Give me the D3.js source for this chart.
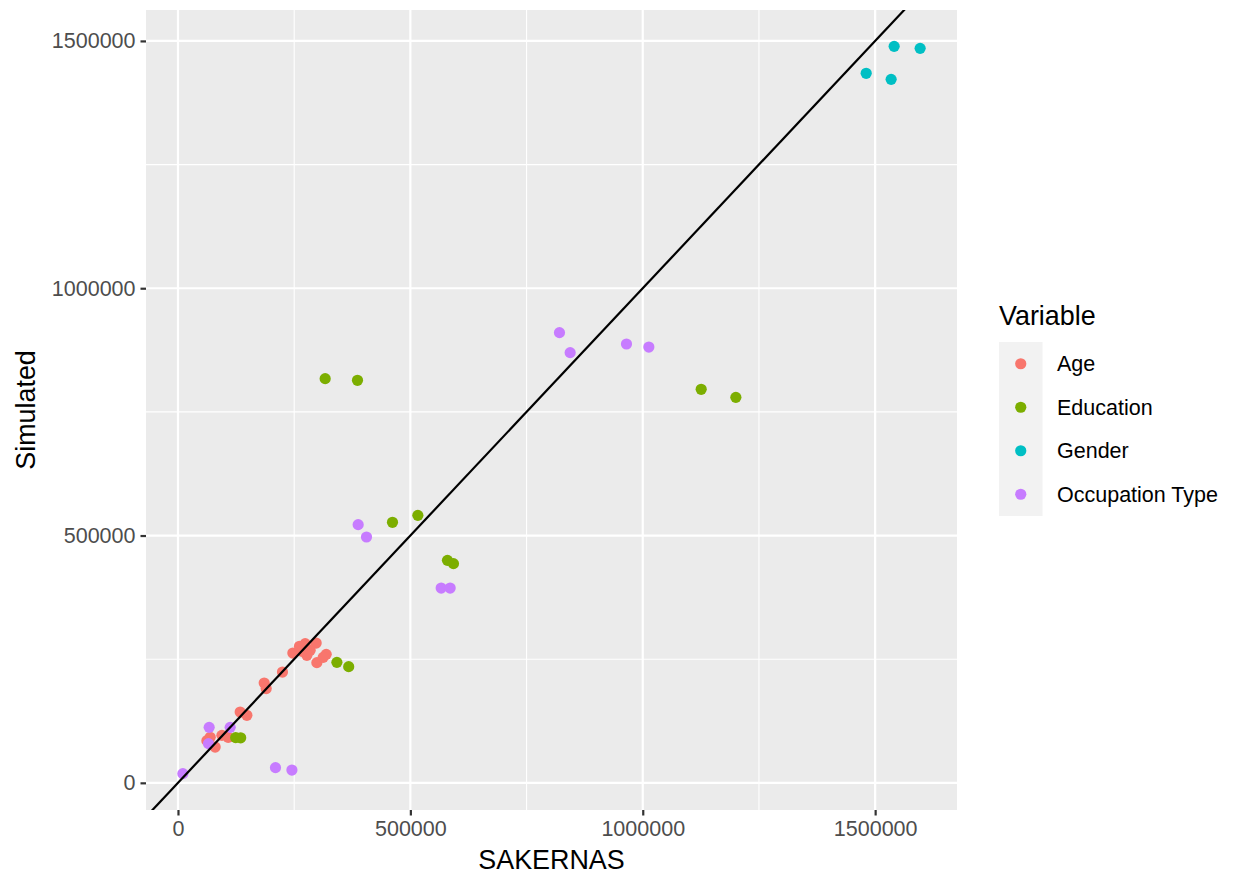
<!DOCTYPE html>
<html>
<head>
<meta charset="utf-8">
<script src="https://cdn.jsdelivr.net/npm/d3@7"></script>
<style>
  html, body { margin: 0; padding: 0; background: #fff; }
  svg text { font-family: "Liberation Sans", Arial, Helvetica, sans-serif; }
</style>
</head>
<body>
<svg id="chart" width="1238" height="878"></svg>
<script>
// ---- data ----
const categories = ["Age", "Education", "Gender", "Occupation Type"];
const colors = ["#F8766D", "#7CAE00", "#00BFC4", "#C77CFF"];

const ageX = [247200, 261400, 273700, 297300, 284400, 277300, 298800, 318900, 312400, 267200,
              224800, 185500, 189800, 133800, 148200, 69300, 62200, 80000, 94500, 108000];
const ageY = [262400, 276000, 281400, 282600, 267900, 257800, 243000, 259800, 253700, 265900,
              224000, 201800, 190500, 143100, 136500, 92000, 85300, 72400, 96000, 92000];

const eduX = [316700, 386200, 1125700, 1200300, 461500, 516100, 579800, 592700, 341900, 367300, 124100, 134900];
const eduY = [817200, 813800, 795600, 779400, 526700, 540800, 449800, 443200, 243600, 234900, 91400, 91000];

const genX = [1480700, 1540900, 1534400, 1596800];
const genY = [1434500, 1489000, 1422300, 1485000];

const occX = [820800, 843800, 965000, 1013100, 387700, 405600, 566300, 585600, 67100, 112300, 65600, 10500, 209800, 245100];
const occY = [910200, 869800, 887200, 881100, 522000, 497000, 393800, 393800, 112200, 112200, 79300, 18600, 30700, 25900];

const xTicks = [0, 500000, 1000000, 1500000];
const yTicks = [0, 500000, 1000000, 1500000];
const xMinor = [250000, 750000, 1250000];
const yMinor = [250000, 750000, 1250000];

const xTitle = "SAKERNAS";
const yTitle = "Simulated";
const legendTitle = "Variable";

// ---- build ----
const seriesX = [ageX, eduX, genX, occX];
const seriesY = [ageY, eduY, genY, occY];
const points = [];
categories.forEach((c, i) => {
  seriesX[i].forEach((x, j) => points.push({ cat: c, ci: i, x: x, y: seriesY[i][j] }));
});

const P = { left: 146, right: 957, top: 10, bottom: 810 };

function expand(ext) { const d = ext[1] - ext[0]; return [ext[0] - 0.05 * d, ext[1] + 0.05 * d]; }
const xDom = expand(d3.extent(points, d => d.x));
const yDom = expand(d3.extent(points, d => d.y));

const x = d3.scaleLinear().domain(xDom).range([P.left, P.right]);
const y = d3.scaleLinear().domain(yDom).range([P.bottom, P.top]);
const color = d3.scaleOrdinal().domain(categories).range(colors);

const svg = d3.select("#chart");

svg.append("defs").append("clipPath").attr("id", "panelClip")
  .append("rect").attr("x", P.left).attr("y", P.top)
  .attr("width", P.right - P.left).attr("height", P.bottom - P.top);

// panel background
svg.append("rect").attr("x", P.left).attr("y", P.top)
  .attr("width", P.right - P.left).attr("height", P.bottom - P.top)
  .attr("fill", "#EBEBEB");

const grid = svg.append("g");
// minor grid
grid.selectAll(".vxm").data(xMinor).join("line")
  .attr("x1", d => x(d)).attr("x2", d => x(d)).attr("y1", P.top).attr("y2", P.bottom)
  .attr("stroke", "#fff").attr("stroke-width", 1.1);
grid.selectAll(".hym").data(yMinor).join("line")
  .attr("y1", d => y(d)).attr("y2", d => y(d)).attr("x1", P.left).attr("x2", P.right)
  .attr("stroke", "#fff").attr("stroke-width", 1.1);
// major grid
grid.selectAll(".vx").data(xTicks).join("line")
  .attr("x1", d => x(d)).attr("x2", d => x(d)).attr("y1", P.top).attr("y2", P.bottom)
  .attr("stroke", "#fff").attr("stroke-width", 2.2);
grid.selectAll(".hy").data(yTicks).join("line")
  .attr("y1", d => y(d)).attr("y2", d => y(d)).attr("x1", P.left).attr("x2", P.right)
  .attr("stroke", "#fff").attr("stroke-width", 2.2);

// points
svg.append("g").selectAll("circle").data(points).join("circle")
  .attr("cx", d => x(d.x)).attr("cy", d => y(d.y)).attr("r", 5.6)
  .attr("fill", d => color(d.cat));

// identity line
const lo = Math.min(xDom[0], yDom[0]) - 1e6, hi = Math.max(xDom[1], yDom[1]) + 1e6;
svg.append("line").attr("clip-path", "url(#panelClip)")
  .attr("x1", x(lo)).attr("y1", y(lo)).attr("x2", x(hi)).attr("y2", y(hi))
  .attr("stroke", "#000").attr("stroke-width", 2.2);

// axes
const fmt = d3.format("d");
const xAxis = d3.axisBottom(x).tickValues(xTicks).tickFormat(fmt).tickSize(5.5).tickPadding(5);
const yAxis = d3.axisLeft(y).tickValues(yTicks).tickFormat(fmt).tickSize(5.5).tickPadding(5);

const gx = svg.append("g").attr("transform", `translate(0,${P.bottom})`).call(xAxis);
const gy = svg.append("g").attr("transform", `translate(${P.left},0)`).call(yAxis);
[gx, gy].forEach(g => {
  g.select(".domain").remove();
  g.selectAll(".tick line").attr("stroke", "#333333").attr("stroke-width", 2.2);
  g.selectAll(".tick text").attr("fill", "#4D4D4D").style("font-size", "21.5px")
    .style("font-family", '"Liberation Sans", Arial, sans-serif');
});

// axis titles
svg.append("text").attr("x", (P.left + P.right) / 2).attr("y", 869)
  .attr("text-anchor", "middle").style("font-size", "26.9px").attr("fill", "#000").text(xTitle);
svg.append("text").attr("transform", `translate(35,${(P.top + P.bottom) / 2}) rotate(-90)`)
  .attr("text-anchor", "middle").style("font-size", "26.9px").attr("fill", "#000").text(yTitle);

// legend
const L = { x: 999, y: 342, keyW: 43.5, keyH: 43.5 };
const leg = svg.append("g");
leg.append("text").attr("x", 999).attr("y", 325).style("font-size", "26.9px")
  .attr("fill", "#000").text(legendTitle);
leg.append("rect").attr("x", L.x).attr("y", L.y)
  .attr("width", L.keyW).attr("height", L.keyH * categories.length).attr("fill", "#F2F2F2");
categories.forEach((c, i) => {
  const cy = L.y + L.keyH * (i + 0.5);
  leg.append("circle").attr("cx", L.x + L.keyW / 2).attr("cy", cy).attr("r", 5.6).attr("fill", color(c));
  leg.append("text").attr("x", 1057).attr("y", cy).attr("dy", "0.36em")
    .style("font-size", "21.5px").attr("fill", "#000").text(c);
});
</script>
</body>
</html>
